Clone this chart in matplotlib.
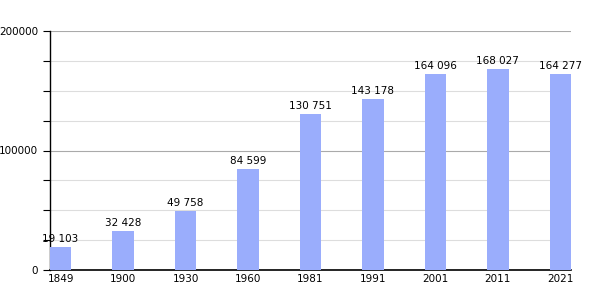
import matplotlib.pyplot as plt
import numpy as np

years = ['1849', '1900', '1930', '1960', '1981', '1991', '2001', '2011', '2021']
population = [19103, 32428, 49758, 84599, 130751, 143178, 164096, 168027, 164277]
labels = ['19 103', '32 428', '49 758', '84 599', '130 751', '143 178', '164 096', '168 027', '164 277']

fig = plt.figure(figsize=(6, 3), dpi=100)
ax = fig.add_axes([50 / 600, 30 / 300, 521 / 600, 239 / 300])

x = np.arange(len(years))
w = 0.34
ax.bar(x, population, width=w, color='#9aadfc', zorder=3)
for xi, v, lab in zip(x, population, labels):
    ax.text(xi, v + 2500, lab, ha='center', va='bottom', fontsize=7.5, zorder=4)

ax.set_xlim(-w / 2, len(years) - 1 + w / 2)
ax.set_ylim(0, 200000)
ax.set_xticks(x)
ax.set_xticklabels(years, fontsize=7.5)
ax.set_yticks([0, 100000, 200000])
ax.set_yticklabels(['0', '100000', '200000'], fontsize=7.5)
ax.set_yticks(np.arange(0, 200001, 25000), minor=True)
ax.tick_params(axis='x', length=0, pad=3)
ax.tick_params(axis='y', which='both', length=5, direction='out', width=0.8)

ax.grid(axis='y', which='major', color='#aaaaaa', linewidth=0.8, zorder=0)
ax.grid(axis='y', which='minor', color='#dddddd', linewidth=0.8, zorder=0)
for s in ['top', 'right']:
    ax.spines[s].set_visible(False)
ax.spines['left'].set_linewidth(1)
ax.spines['bottom'].set_linewidth(1.2)

fig.savefig('out.png', dpi=100)
